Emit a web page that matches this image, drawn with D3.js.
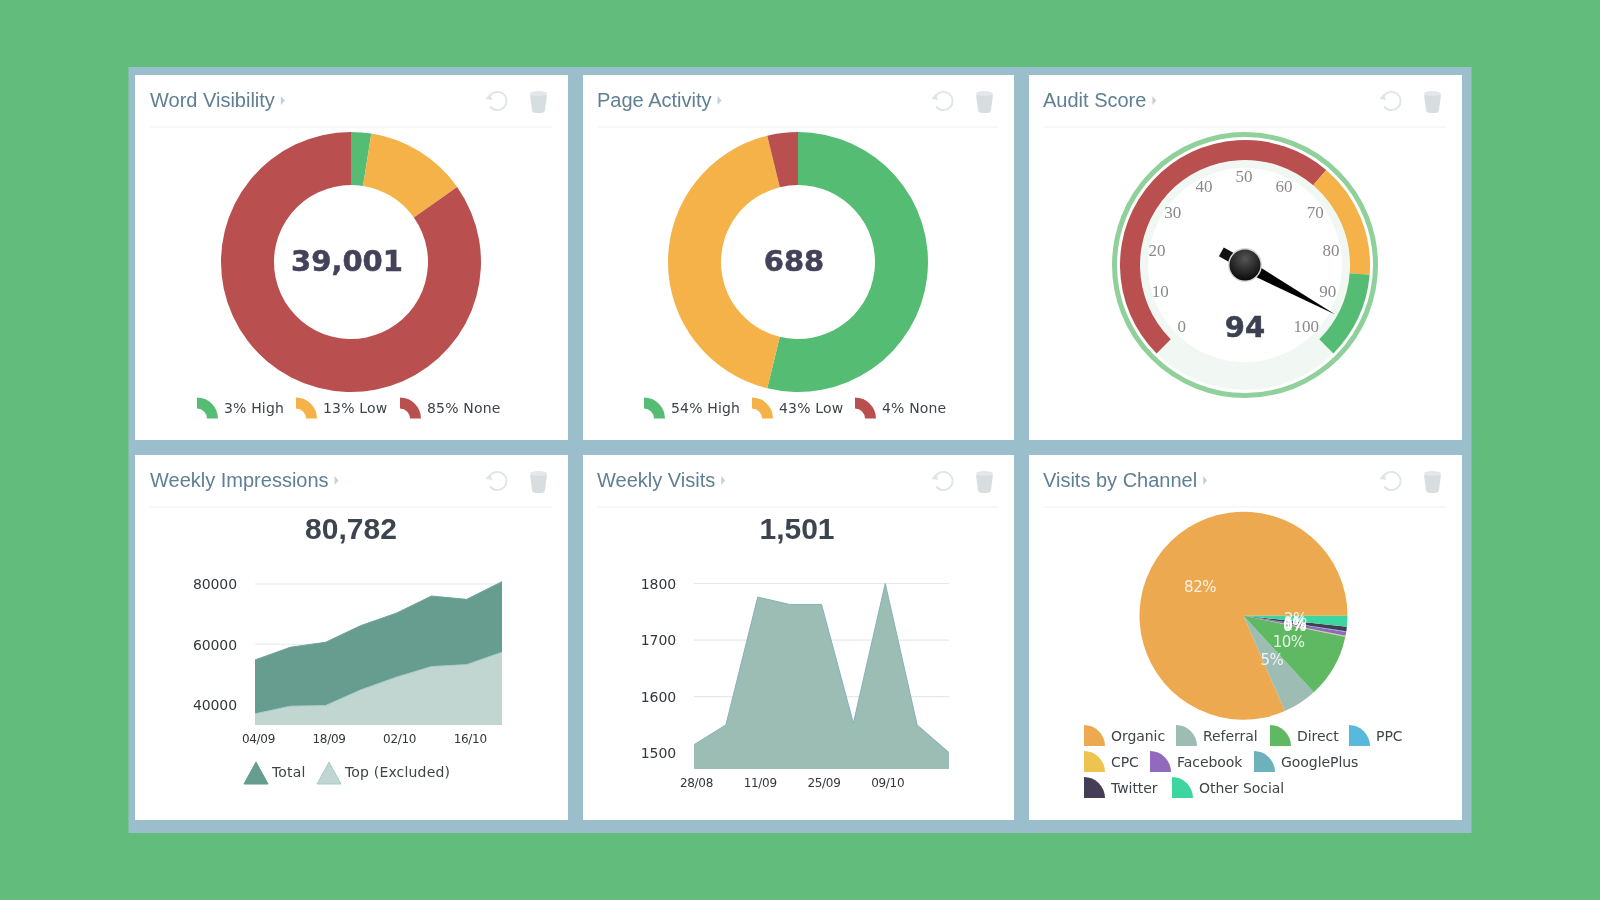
<!DOCTYPE html>
<html><head><meta charset="utf-8">
<script src="https://cdn.jsdelivr.net/npm/d3@7"></script>
<style>
html,body{margin:0;padding:0;background:#62bc7c;overflow:hidden}
svg{display:block;filter:blur(.6px)}
.title{font:20px "Liberation Sans",Arial,sans-serif;fill:#5f7f92}
.leg{font:14px "DejaVu Sans",sans-serif;fill:#3f4449;letter-spacing:-.05px}
.leg.wide{letter-spacing:.17px}
.big{font:bold 30px "Liberation Sans",Arial,sans-serif;fill:#3c4450;text-anchor:middle}
.donutnum{font:bold 29px "DejaVu Sans",sans-serif;fill:#43425a;stroke:#43425a;stroke-width:.5;text-anchor:middle}
.axis path,.axis line{display:none}
.axis text{fill:#33373c;font-family:"DejaVu Sans",sans-serif}
.y text{font-size:14px;letter-spacing:-.1px}
.x text{font-size:12px;letter-spacing:-.3px}
.pct{font:15px "DejaVu Sans",sans-serif;fill:#fff;fill-opacity:.85;text-anchor:middle;letter-spacing:-.5px}
.gt{font:17px "Liberation Serif",serif;fill:#8a8a8a;text-anchor:middle}
</style></head><body>
<svg id="c" width="1600" height="900"></svg>
<script>
// ---------- data ----------
const cardTitles = ["Word Visibility","Page Activity","Audit Score","Weekly Impressions","Weekly Visits","Visits by Channel"];
const donutNames = ["High","Low","None"];
const donutColors = ["#55bd73","#f4b249","#b94f4f"];
const wordVisibilityValues = [2.5,12.7,84.8];
const wordVisibilityLabels = ["3%","13%","85%"];
const wordVisibilityTotal = "39,001";
const pageActivityValues = [53.8,42.4,3.8];
const pageActivityLabels = ["54%","43%","4%"];
const pageActivityTotal = "688";
const gaugeScore = 94;
const gaugeTicks = [0,10,20,30,40,50,60,70,80,90,100];
const gaugeBands = [[0,65,"#b94f4f"],[65,85,"#f4b249"],[85,100,"#55bd73"]];
const impressionDates = ["04/09","11/09","18/09","25/09","02/10","09/10","16/10","23/10"];
const impressionTicks = ["04/09","18/09","02/10","16/10"];
const impressionYTicks = [40000,60000,80000];
const impressionTotal = [54800,59000,60660,66200,70300,76000,74900,80782];
const impressionTop = [36900,39450,39670,44860,49060,52600,53260,57350];
const impressionHeadline = "80,782";
const visitDates = ["28/08","04/09","11/09","18/09","25/09","02/10","09/10","16/10","23/10"];
const visitTicks = ["28/08","11/09","25/09","09/10"];
const visitYTicks = [1500,1600,1700,1800];
const visitValues = [1515,1550,1776,1763,1763,1553,1800,1550,1501];
const visitHeadline = "1,501";
const channelNames = ["Organic","Referral","Direct","PPC","CPC","Facebook","GooglePlus","Twitter","Other Social"];
const channelValues = [81.6,5.3,9.9,0.1,0.1,0.6,0.1,0.7,1.7];
const channelColors = ["#eda950","#9cbcb4","#5fb962","#58b9dd","#eec350","#9169bd","#6db1bd","#453c55","#3dd6a0"];

// ---------- layout ----------
const svg = d3.select("#c");
svg.append("rect").attr("x",128.5).attr("y",67).attr("width",1343).attr("height",766).attr("fill","#9bbecd");
const colX = [[135,568],[583,1014],[1029,1462]];
const rowY = [[75,440],[455,820]];
const arc = d3.arc();

cardTitles.forEach((t,i)=>{
  const [x0,x1]=colX[i%3],[y0,y1]=rowY[Math.floor(i/3)];
  const g=svg.append("g");
  g.append("rect").attr("x",x0).attr("y",y0).attr("width",x1-x0).attr("height",y1-y0).attr("fill","#fff");
  const tx0=x0+(i%3===0?15:14);
  const tx=g.append("text").attr("class","title").attr("x",tx0).attr("y",y0+32).text(t);
  const w=tx.node().getComputedTextLength();
  g.append("path").attr("d",`M${tx0+w+6} ${y0+21}l4 4.5l-4 4.5z`).attr("fill","#c5d2d9");
  g.append("line").attr("x1",x0+15).attr("x2",x1-16).attr("y1",y0+52).attr("y2",y0+52).attr("stroke","#eef0f1").attr("stroke-width",1.2);
  // refresh icon
  const ix=x1-70.5, iy=y0+26;
  g.append("path").attr("d",d3.arc()({innerRadius:8.2,outerRadius:10,startAngle:-1.1,endAngle:Math.PI*1.3})).attr("transform",`translate(${ix},${iy})`).attr("fill","#dfe4e6");
  g.append("path").attr("d",`M${ix-12} ${iy-2}l4 -5l3 6z`).attr("fill","#dfe4e6");
  // bin icon
  const bx=x1-29.5;
  g.append("path").attr("d",`M${bx-8.5} ${iy-6}h17l-2 15q-.3 3 -4 3h-5q-3.7 0 -4 -3z`).attr("fill","#d8dee0");
  g.append("ellipse").attr("cx",bx).attr("cy",iy-7.5).attr("rx",8.5).attr("ry",2.5).attr("fill","#e3e7e9");
});

function donut(cx,cy,values,labels,total,legendXs){
  const pie=d3.pie().sort(null)(values);
  const g=svg.append("g").attr("transform",`translate(${cx},${cy})`);
  g.selectAll("path").data(pie).join("path")
    .attr("d",d=>arc({innerRadius:77,outerRadius:130,startAngle:d.startAngle,endAngle:d.endAngle}))
    .attr("fill",(d,i)=>donutColors[i]);
  g.append("text").attr("class","donutnum").attr("x",-4).attr("y",9).text(total);
  legendXs.forEach((lx,i)=>{
    svg.append("path").attr("transform",`translate(${lx},418.5)`)
      .attr("d",arc({innerRadius:10,outerRadius:21,startAngle:0,endAngle:Math.PI/2})).attr("fill",donutColors[i]);
    svg.append("text").attr("class","leg wide").attr("x",lx+27).attr("y",413).text(labels[i]+" "+donutNames[i]);
  });
}
donut(351,262,wordVisibilityValues,wordVisibilityLabels,wordVisibilityTotal,[197,296,400]);
donut(798,262,pageActivityValues,pageActivityLabels,pageActivityTotal,[644,752,855]);

// gauge
(function(){
  const cx=1245,cy=265;
  const ang=d3.scaleLinear().domain([0,100]).range([-135,135]);
  const rad=d=>ang(d)*Math.PI/180;
  const g=svg.append("g").attr("transform",`translate(${cx},${cy})`);
  g.append("circle").attr("r",130.5).attr("fill","#fff").attr("stroke","#90d09b").attr("stroke-width",5);
  g.append("circle").attr("r",125).attr("fill","#f1f8f3");
  g.append("circle").attr("r",97).attr("fill","#fff");
  gaugeBands.forEach(b=>g.append("path").attr("d",arc({innerRadius:105,outerRadius:125,startAngle:rad(b[0]),endAngle:rad(b[1])})).attr("fill",b[2]));
  g.selectAll(".gt").data(gaugeTicks).join("text").attr("class","gt")
    .attr("x",d=>88*Math.sin(rad(d))-1).attr("y",d=>-88*Math.cos(rad(d))+5).text(d=>d);
  const n=g.append("g").attr("transform",`rotate(${ang(gaugeScore)})`);
  n.append("path").attr("d","M-5.5 -12 L0 -103 L5.5 -12Z").attr("fill","#000");
  n.append("path").attr("d","M-5 14 L-5 27 L5 27 L5 14Z").attr("fill","#111");
  const grad=svg.append("defs").append("radialGradient").attr("id","hub").attr("cy","0.3").attr("r","0.7");
  grad.append("stop").attr("offset","0").attr("stop-color","#555");
  grad.append("stop").attr("offset","1").attr("stop-color","#0a0a0a");
  g.append("circle").attr("r",17).attr("fill","#d8d8d8");
  g.append("circle").attr("r",15.5).attr("fill","url(#hub)");
  g.append("text").attr("y",72).attr("text-anchor","middle").attr("font-family","DejaVu Sans").attr("font-weight","bold").attr("font-size",29).attr("fill","#3b4150").attr("stroke","#3b4150").attr("stroke-width",.5).text(gaugeScore);
})();

function areaChart(cfg){
  const x=d3.scalePoint().domain(cfg.dates).range(cfg.xr);
  const y=d3.scaleLinear().domain(cfg.yd).range(cfg.yr);
  const g=svg.append("g");
  g.selectAll(".grid").data(cfg.yTicks).join("line").attr("x1",cfg.xr[0]).attr("x2",cfg.xr[1])
    .attr("y1",d=>y(d)).attr("y2",d=>y(d)).attr("stroke","#e6e8ea").attr("stroke-width",1.2);
  cfg.series.forEach(s=>{
    const a=d3.area().x((d,i)=>x(cfg.dates[i])).y0(y(cfg.yd[0])).y1(d=>y(d));
    g.append("path").attr("d",a(s.values)).attr("fill",s.color);
    g.append("path").attr("d",d3.line().x((d,i)=>x(cfg.dates[i])).y(d=>y(d))(s.values)).attr("fill","none").attr("stroke",s.edge).attr("stroke-width",1);
  });
  g.append("g").attr("class","axis y").attr("transform",`translate(${cfg.xr[0]-4},0)`)
    .call(d3.axisLeft(y).tickValues(cfg.yTicks).tickSize(0).tickPadding(14).tickFormat(d3.format("d")))
    .call(s=>s.selectAll("text").attr("dy",".34em"));
  g.append("g").attr("class","axis x").attr("transform",`translate(${cfg.xo},${cfg.yr[0]+6})`)
    .call(d3.axisBottom(x).tickValues(cfg.xTicks).tickSize(0).tickPadding(3));
  svg.append("text").attr("class","big").attr("x",cfg.hx).attr("y",539).text(cfg.headline);
}
areaChart({dates:impressionDates,xTicks:impressionTicks,yTicks:impressionYTicks,xr:[255,502],xo:3,
  yd:[33200,80000],yr:[725,584],headline:impressionHeadline,hx:351,
  series:[{values:impressionTotal,color:"#679d8f",edge:"#6fa3a0"},{values:impressionTop,color:"#c1d6d1",edge:"#a9cbd0"}]});
areaChart({dates:visitDates,xTicks:visitTicks,yTicks:visitYTicks,xr:[694,949],xo:2,
  yd:[1472,1800],yr:[769,583.5],headline:visitHeadline,hx:797,
  series:[{values:visitValues,color:"#9bbdb3",edge:"#86b0bd"}]});

// area legend
[[ "Total",244,"#679d8f","#5f9a90"],["Top (Excluded)",317,"#c1d6d1","#a5cbd6"]].forEach(l=>{
  svg.append("path").attr("d",d3.line()([[l[1],784],[l[1]+12,762],[l[1]+24,784]])+"Z").attr("fill",l[2]).attr("stroke",l[3]);
  svg.append("text").attr("class","leg wide").attr("x",l[1]+28).attr("y",777).text(l[0]);
});

// pie
(function(){
  const pie=d3.pie().sort(null).startAngle(Math.PI/2).endAngle(Math.PI/2-2*Math.PI)(channelValues);
  const g=svg.append("g").attr("transform","translate(1243.5,615.7)");
  g.selectAll("path").data(pie).join("path")
    .attr("d",d=>arc({innerRadius:0,outerRadius:104,startAngle:d.startAngle,endAngle:d.endAngle}))
    .attr("fill",(d,i)=>channelColors[i]);
  g.selectAll("text").data(pie).join("text").attr("class","pct")
    .attr("transform",d=>`translate(${arc.centroid({innerRadius:0,outerRadius:104,startAngle:d.startAngle,endAngle:d.endAngle})})`)
    .attr("dy",".35em").text(d=>d3.format(".0f")(d.value)+"%");
  const pos=[[1084,736],[1176,736],[1270,736],[1349,736],[1084,762],[1150,762],[1254,762],[1084,788],[1172,788]];
  channelNames.forEach((n,i)=>{
    const [lx,ly]=pos[i];
    svg.append("path").attr("transform",`translate(${lx},${ly+10})`)
      .attr("d",arc({innerRadius:0,outerRadius:21,startAngle:0,endAngle:Math.PI/2})).attr("fill",channelColors[i]);
    svg.append("text").attr("class","leg").attr("x",lx+27).attr("y",ly+5).text(n);
  });
})();
</script></body></html>
